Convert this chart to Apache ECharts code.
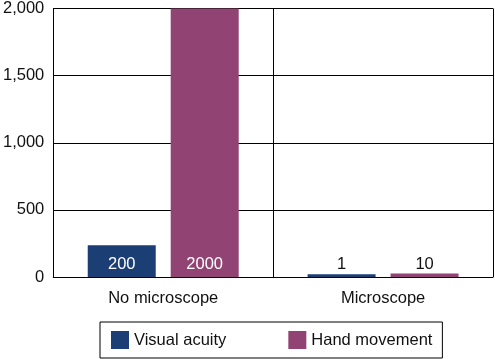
<!DOCTYPE html>
<html><head><meta charset="utf-8">
<script src="https://cdn.jsdelivr.net/npm/echarts@6/dist/echarts.min.js"></script>
<style>html,body{margin:0;padding:0;background:#fff}#c{width:495px;height:359px}</style>
</head><body><div id="c"></div>
<script>
const categories = ['No microscope', 'Microscope'];
const visualAcuity = [236, 20];
const handMovement = [2000, 27];
const visualAcuityLabels = ['200', '1'];
const handMovementLabels = ['2000', '10'];
const yTicks = [0, 500, 1000, 1500, 2000];

const FONT = '"Liberation Sans", Arial, sans-serif';
const FS = 16.5;
const chart = echarts.init(document.getElementById('c'), null, {renderer: 'canvas'});
function labelFor(arr) {
  return function (p) { return arr[p.dataIndex]; };
}
chart.setOption({
  animation: false,
  grid: {left: 51, right: 2, top: 8, bottom: 82},
  legend: {
    left: 100, top: 322,
    padding: [9, 10, 9, 11],
    borderColor: '#000', borderWidth: 1,
    itemWidth: 18, itemHeight: 18, itemGap: 62,
    icon: 'rect',
    textStyle: {fontFamily: FONT, fontSize: FS, color: '#111'},
    data: ['Visual acuity', 'Hand movement']
  },
  xAxis: {
    type: 'category', data: categories,
    axisLine: {lineStyle: {color: '#000', width: 1}},
    axisTick: {show: false},
    axisLabel: {fontFamily: FONT, fontSize: FS, color: '#111', margin: 13},
    splitLine: {show: true, lineStyle: {color: '#000', width: 1}}
  },
  yAxis: {
    type: 'value', min: yTicks[0], max: yTicks[yTicks.length - 1], interval: 500,
    axisLine: {show: true, lineStyle: {color: '#000', width: 1}},
    axisTick: {show: false},
    axisLabel: {fontFamily: FONT, fontSize: FS, color: '#111', margin: 9,
      formatter: v => v.toLocaleString('en-US')},
    splitLine: {show: true, lineStyle: {color: '#000', width: 1}}
  },
  series: [
    {
      name: 'Visual acuity', type: 'bar', barWidth: 68, barGap: '22%',
      itemStyle: {color: '#1B3F74'},
      data: visualAcuity.map((v, i) => ({value: v, label: {color: i === 0 ? '#fff' : '#111'}})),
      label: {show: true, position: 'insideBottom', distance: 4, fontFamily: FONT, fontSize: FS,
        formatter: labelFor(visualAcuityLabels)}
    },
    {
      name: 'Hand movement', type: 'bar', barWidth: 68, barGap: '22%',
      itemStyle: {color: '#914473'},
      data: handMovement.map((v, i) => ({value: v, label: {color: i === 0 ? '#fff' : '#111'}})),
      label: {show: true, position: 'insideBottom', distance: 4, fontFamily: FONT, fontSize: FS,
        formatter: labelFor(handMovementLabels)}
    }
  ]
});
</script></body></html>
